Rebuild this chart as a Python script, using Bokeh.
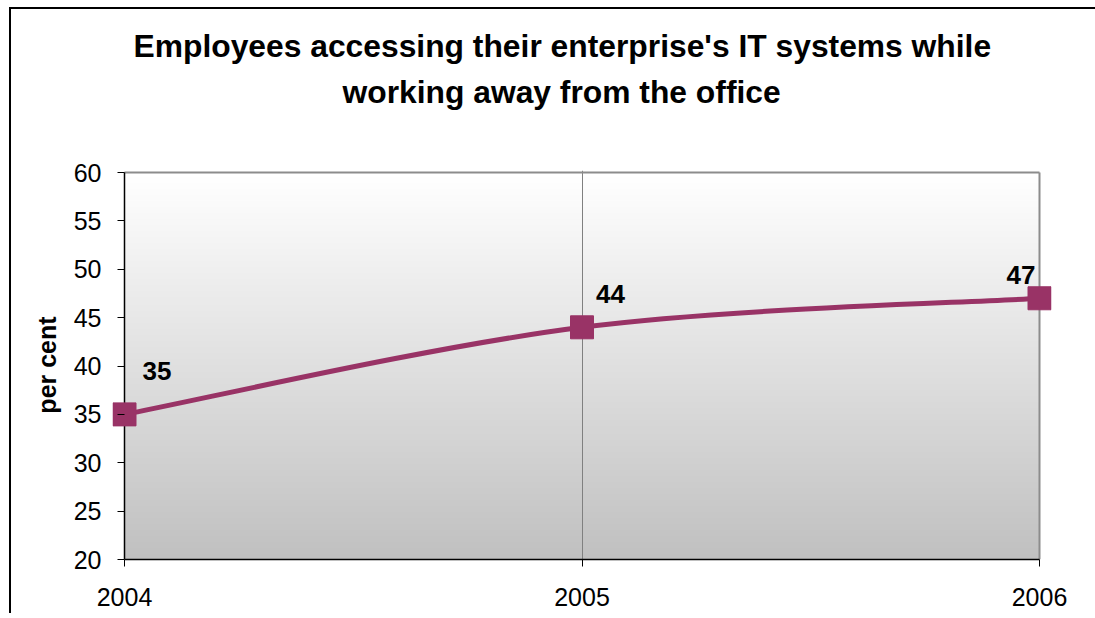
import numpy as np
from bokeh.plotting import figure
from bokeh.models import Range1d, FixedTicker, ColumnDataSource, LabelSet, Title
from bokeh.core.properties import value
from bokeh.embed import file_html
from bokeh.resources import INLINE

# ---- data ----
years = [2004, 2005, 2006]
values = [35, 44, 47]
value_labels = ["35", "44", "47"]
y_ticks = [20, 25, 30, 35, 40, 45, 50, 55, 60]
title_lines = ["Employees accessing their enterprise's IT systems while",
               "working away from the office"]
y_label = "per cent"

# ---- style ----
LINE_COLOR = "#993366"
FONT = "Liberation Sans"
label_dx = [18, 14, -33]
label_dy = [43, 33, 23]

# pixel layout: plot area 2004..2006 -> 915 px, 20..60 -> 387 px
PX_X = 915 / (years[-1] - years[0])
PX_Y = 387 / (y_ticks[-1] - y_ticks[0])
PAD_X = 12 / PX_X          # room so end markers are not clipped
PAD_Y = 2 / PX_Y

p = figure(width=1084, height=604, output_backend="svg", toolbar_location=None,
           frame_width=939, frame_height=389,
           x_range=Range1d(years[0] - PAD_X, years[-1] + PAD_X),
           y_range=Range1d(y_ticks[0], y_ticks[-1] + PAD_Y),
           min_border_left=101, min_border_right=44, min_border_top=161, min_border_bottom=54)
p.styles = {"margin-left": "9px", "margin-top": "7px",
            "border-left": "2px solid black", "border-top": "2px solid black"}
p.background_fill_color = "white"
p.border_fill_color = "white"
p.outline_line_color = None

# gradient background of plot area
n = 256
t = np.linspace(0, 1, n)
g = np.round(192 + 63 * t).astype(np.uint8)
img = np.empty((n, 1), dtype=np.uint32)
view = img.view(np.uint8).reshape(n, 1, 4)
view[:, 0, 0] = g
view[:, 0, 1] = g
view[:, 0, 2] = g
view[:, 0, 3] = 255
r_img = p.image_rgba(image=[img], x=years[0], y=y_ticks[0],
                     dw=years[-1] - years[0], dh=y_ticks[-1] - y_ticks[0])
r_img.level = "image"

# plot-area border: gray top and right, black left (y axis line)
p.segment(x0=[years[0], years[-1]], y0=[y_ticks[-1], y_ticks[0]],
          x1=[years[-1], years[-1]], y1=[y_ticks[-1], y_ticks[-1]],
          line_color="#8c8c8c", line_width=2)
p.segment(x0=[years[0]], y0=[y_ticks[0]], x1=[years[0]], y1=[y_ticks[-1]],
          line_color="black", line_width=1.5)

# smoothed line (Bezier segments derived from the data points)
xs = np.array(years, dtype=float)
ys = np.array(values, dtype=float)
m = len(xs)
x0, y0, x1, y1, cx0, cy0, cx1, cy1 = [], [], [], [], [], [], [], []
for i in range(m - 1):
    im1 = max(i - 1, 0)
    ip2 = min(i + 2, m - 1)
    x0.append(xs[i]); y0.append(ys[i])
    x1.append(xs[i + 1]); y1.append(ys[i + 1])
    cx0.append(xs[i] + (xs[i + 1] - xs[im1]) / 6)
    cy0.append(ys[i] + (ys[i + 1] - ys[im1]) / 6)
    cx1.append(xs[i + 1] - (xs[ip2] - xs[i]) / 6)
    cy1.append(ys[i + 1] - (ys[ip2] - ys[i]) / 6)
p.bezier(x0=x0, y0=y0, x1=x1, y1=y1, cx0=cx0, cy0=cy0, cx1=cx1, cy1=cy1,
         line_color=LINE_COLOR, line_width=5)

src = ColumnDataSource(dict(x=years, y=values, text=value_labels, dx=label_dx, dy=label_dy))
p.scatter("x", "y", source=src, marker="square", size=23,
          fill_color=LINE_COLOR, line_color=LINE_COLOR)

labels = LabelSet(x="x", y="y", text="text", x_offset="dx", y_offset="dy", source=src,
                  text_font=value(FONT), text_font_size=value("26px"), text_font_style="bold",
                  text_color="black", text_align="left", text_baseline="middle")
p.add_layout(labels)

# axes
p.xaxis.ticker = FixedTicker(ticks=years)
p.yaxis.ticker = FixedTicker(ticks=y_ticks)
p.xaxis.bounds = (years[0], years[-1])
p.yaxis.bounds = (y_ticks[0], y_ticks[-1])
for ax in (p.xaxis[0], p.yaxis[0]):
    ax.major_tick_line_color = "black"
    ax.minor_tick_line_color = None
    ax.major_label_text_font = FONT
    ax.major_label_text_font_size = "25px"
    ax.major_label_text_color = "black"
p.xaxis.axis_line_color = "black"
p.xaxis.axis_line_width = 1.5
p.xaxis.major_tick_in = 0
p.xaxis.major_tick_out = 7
p.xaxis.major_label_standoff = 21
# y axis sits at the padded frame edge; its ticks reach the 2004 line
p.yaxis.axis_line_color = None
p.yaxis.major_tick_in = 12
p.yaxis.major_tick_out = -5
p.yaxis.major_label_standoff = 11
p.yaxis.axis_label = y_label
p.yaxis.axis_label_text_font = FONT
p.yaxis.axis_label_text_font_size = "25px"
p.yaxis.axis_label_text_font_style = "bold"
p.yaxis.axis_label_text_color = "black"
p.yaxis.axis_label_standoff = 10

p.ygrid.visible = False
p.xgrid.ticker = FixedTicker(ticks=[years[1]])
p.xgrid.grid_line_color = "#808080"
p.xgrid.grid_line_width = 1

# title: spacer nearest the frame, then line 2, then line 1 (outermost)
p.add_layout(Title(text=" ", text_font_size="1px", standoff=58), "above")
p.add_layout(Title(text=title_lines[1], align="left", offset=230, standoff=0,
                   text_font=FONT, text_font_size="31.8px", text_font_style="bold",
                   text_color="black"), "above")
p.add_layout(Title(text=title_lines[0], align="left", offset=21, standoff=16,
                   text_font=FONT, text_font_size="31.8px", text_font_style="bold",
                   text_color="black"), "above")

open("out.html", "w").write(file_html(p, INLINE))
